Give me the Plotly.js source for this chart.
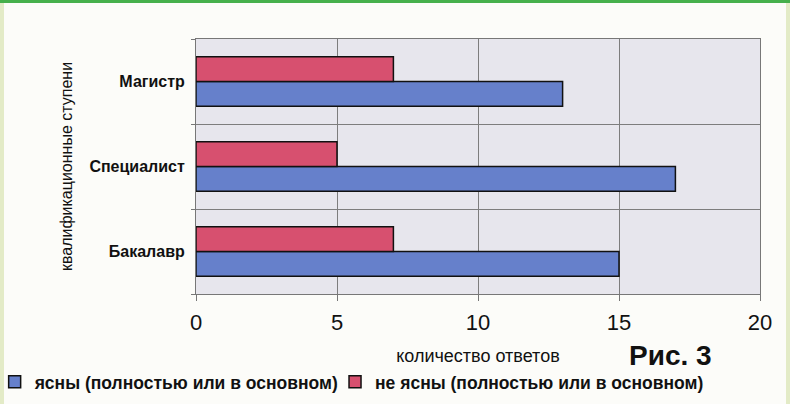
<!DOCTYPE html>
<html>
<head>
<meta charset="utf-8">
<script src="https://cdn.plot.ly/plotly-3.0.1.min.js"></script>
<style>
html,body{margin:0;padding:0;background:#fcfcf9;}
#wrap{position:relative;width:790px;height:404px;overflow:hidden;}
#chart{width:790px;height:404px;}
.strip{position:absolute;pointer-events:none;}
</style>
</head>
<body>
<div id="wrap">
<div id="chart"></div>
<div class="strip" style="left:0;top:0;width:790px;height:3px;background:#46b04c;"></div>
<div class="strip" style="left:0;top:3px;width:4px;height:401px;background:#e3ebc7;"></div>
<div class="strip" style="left:786px;top:3px;width:4px;height:401px;background:#e3ebc7;"></div>
</div>
<script>
var categories = ['Бакалавр', 'Специалист', 'Магистр'];
var clearValues = [15, 17, 13];
var unclearValues = [7, 5, 7];
var seriesNames = ['ясны (полностью или в основном)', 'не ясны (полностью или в основном)'];
var xTicks = [0, 5, 10, 15, 20];

var traces = [
  {
    type: 'bar', orientation: 'h', name: seriesNames[0],
    y: categories, x: clearValues, legend: 'legend',
    marker: {color: '#6680cb', line: {color: '#111', width: 1.5}}
  },
  {
    type: 'bar', orientation: 'h', name: seriesNames[1],
    y: categories, x: unclearValues, legend: 'legend2',
    marker: {color: '#d7506f', line: {color: '#111', width: 1.5}}
  }
];

var legendFont = {size: 17.5, family: 'Arial, "Liberation Sans", sans-serif', weight: 'bold', color: '#111'};

var layout = {
  width: 790, height: 404,
  margin: {l: 196, r: 30, t: 39, b: 110, autoexpand: false},
  paper_bgcolor: '#fcfcf9',
  plot_bgcolor: '#e7e6ed',
  barmode: 'group',
  bargap: 0.42,
  bargroupgap: 0,
  font: {family: 'Arial, "Liberation Sans", sans-serif', color: '#111'},
  showlegend: true,
  legend: {
    orientation: 'h', x: -0.357, xanchor: 'left', y: -0.345, yanchor: 'middle',
    font: legendFont, bgcolor: 'rgba(0,0,0,0)', itemwidth: 30
  },
  legend2: {
    orientation: 'h', x: 0.2465, xanchor: 'left', y: -0.345, yanchor: 'middle',
    font: legendFont, bgcolor: 'rgba(0,0,0,0)', itemwidth: 30
  },
  xaxis: {
    range: [0, 20], tickvals: xTicks, ticktext: xTicks.map(String),
    showgrid: true, gridcolor: '#7d7d7d', gridwidth: 1,
    zeroline: false, showline: true, linecolor: '#777', linewidth: 1, mirror: true,
    ticks: 'outside', ticklen: 6, tickcolor: '#777', ticklabelstandoff: 3,
    tickfont: {size: 22, color: '#111'},
    title: {text: 'количество ответов', standoff: 14,
            font: {size: 18, color: '#111'}},
    automargin: false, fixedrange: true
  },
  yaxis: {
    type: 'category', categoryorder: 'array', categoryarray: categories,
    tickson: 'boundaries', showgrid: true, gridcolor: '#7d7d7d', gridwidth: 1,
    showline: true, linecolor: '#777', linewidth: 1, mirror: true,
    ticks: 'outside', ticklen: 4, tickcolor: '#777', ticklabelstandoff: 7,
    tickfont: {size: 16, weight: 'bold', color: '#111'},
    title: {text: 'квалификационные ступени', standoff: 12,
            font: {size: 16, color: '#111'}},
    automargin: false, fixedrange: true
  },
  annotations: [{
    xref: 'paper', yref: 'paper', x: 0.841, y: -0.24, xanchor: 'center', yanchor: 'middle',
    showarrow: false, text: 'Рис. 3',
    font: {size: 28, weight: 'bold', color: '#111'}
  }]
};

Plotly.newPlot('chart', traces, layout, {displayModeBar: false, staticPlot: true});
</script>
</body>
</html>
